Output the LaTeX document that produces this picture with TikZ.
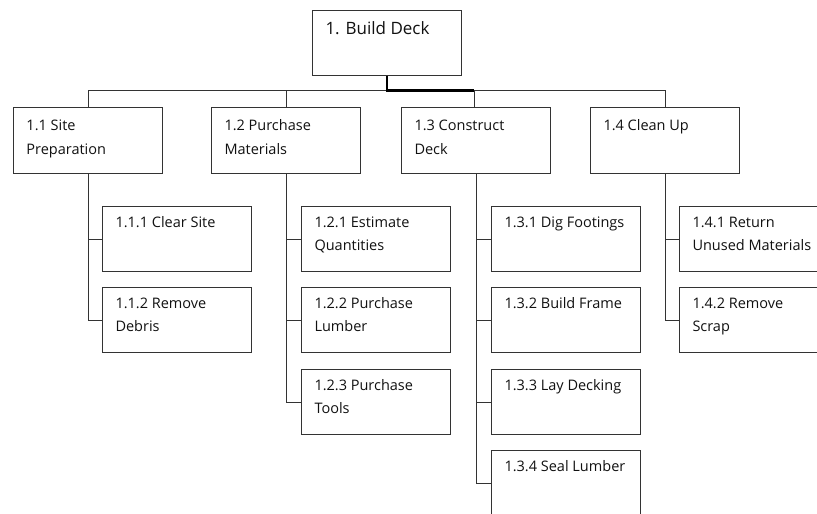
\documentclass[tikz,border=0pt]{standalone}
\usepackage{fontspec}
\setmainfont{Open Sans}
\definecolor{boxc}{HTML}{333333}
\definecolor{txtc}{HTML}{111111}
\newcommand{\wbstext}[4]{\parbox[c][#1][t]{123pt}{\fontsize{#4}{#2}\selectfont\raggedright\color{txtc}#3}}
\newcommand{\topA}{\rule{0pt}{23pt}}
\newcommand{\topB}{\rule{0pt}{21pt}}
\begin{document}
\begin{tikzpicture}[x=1pt,y=-1pt,
  wbs/.style={draw=boxc, line width=1pt, inner xsep=13pt, inner ysep=0pt, anchor=north west, fill=white},
  link/.style={draw=boxc, line width=1pt},
  mainlink/.style={draw=black, line width=2.2pt}]
\useasboundingbox (0,0) rectangle (817,514);
\clip (0,0) rectangle (817,514);
% root
\node[wbs] (root) at (312,10) {\wbstext{65pt}{24pt}{\rule{0pt}{24pt}1. Build Deck}{17}};
% level 1
\node[wbs] (n11) at (13,107) {\wbstext{66pt}{24pt}{\topA 1.1 Site\\Preparation}{14.5}};
\node[wbs] (n12) at (211,107) {\wbstext{66pt}{24pt}{\topA 1.2 Purchase\\Materials}{14.5}};
\node[wbs] (n13) at (401,107) {\wbstext{66pt}{24pt}{\topA 1.3 Construct\\Deck}{14.5}};
\node[wbs] (n14) at (590,107) {\wbstext{66pt}{24pt}{\topA 1.4 Clean Up}{14.5}};
% level 2
\node[wbs] (n111) at (102,206) {\wbstext{65pt}{23pt}{\topB 1.1.1 Clear Site}{14.5}};
\node[wbs] (n112) at (102,287) {\wbstext{65pt}{23pt}{\topB 1.1.2 Remove\\Debris}{14.5}};
\node[wbs] (n121) at (301,206) {\wbstext{65pt}{23pt}{\topB 1.2.1 Estimate\\Quantities}{14.5}};
\node[wbs] (n122) at (301,287) {\wbstext{65pt}{23pt}{\topB 1.2.2 Purchase\\Lumber}{14.5}};
\node[wbs] (n123) at (301,369) {\wbstext{65pt}{23pt}{\topB 1.2.3 Purchase\\Tools}{14.5}};
\node[wbs] (n131) at (491,206) {\wbstext{65pt}{23pt}{\topB 1.3.1 Dig Footings}{14.5}};
\node[wbs] (n132) at (491,287) {\wbstext{65pt}{23pt}{\topB 1.3.2 Build Frame}{14.5}};
\node[wbs] (n133) at (491,369) {\wbstext{65pt}{23pt}{\topB 1.3.3 Lay Decking}{14.5}};
\node[wbs] (n134) at (491,450) {\wbstext{65pt}{23pt}{\topB 1.3.4 Seal Lumber}{14.5}};
\node[wbs] (n141) at (679,206) {\wbstext{65pt}{23pt}{\topB 1.4.1 Return\\Unused Materials}{14.5}};
\node[wbs] (n142) at (679,287) {\wbstext{65pt}{23pt}{\topB 1.4.2 Remove\\Scrap}{14.5}};
% bus
\coordinate (bus) at (0,90.5);
\draw[link] (n11.north) -- (n11.north |- bus) -- (n14.north |- bus) -- (n14.north);
\draw[link] (n12.north) -- (n12.north |- bus);
\draw[link] ([xshift=-2pt]n13.north) -- ([xshift=-2pt]n13.north |- bus);
\draw[mainlink] (root.south) |- ([xshift=-2pt]n13.north |- bus);
% children
\foreach \p/\c in {n11/n111,n11/n112,n12/n121,n12/n122,n12/n123,n13/n131,n13/n132,n13/n133,n13/n134,n14/n141,n14/n142}
  \draw[link] (\p.south) |- (\c.west);
\end{tikzpicture}
\end{document}
